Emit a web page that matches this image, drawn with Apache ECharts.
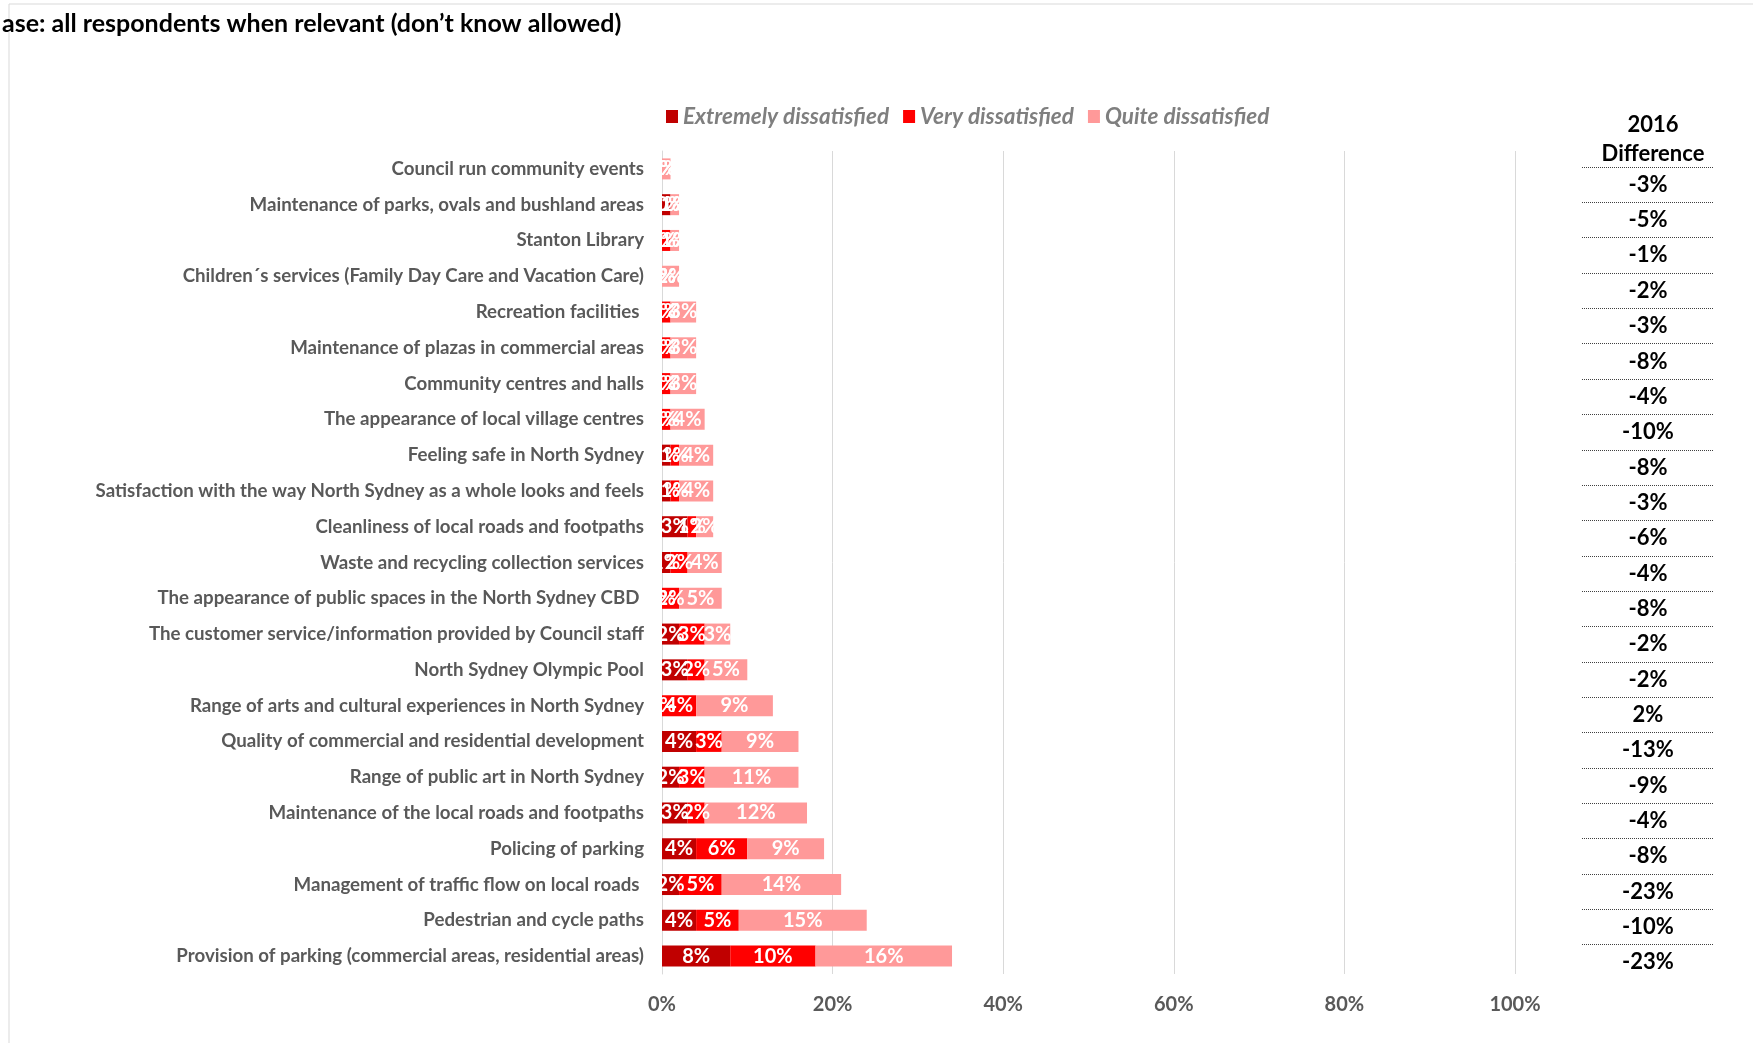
<!DOCTYPE html>
<html>
<head>
<meta charset="utf-8">
<script src="https://cdn.jsdelivr.net/npm/echarts@6/dist/echarts.min.js"></script>
<style>
  html, body { margin: 0; padding: 0; background: #fff; }
  #chart { width: 1760px; height: 1043px; }
</style>
</head>
<body>
<div id="chart"></div>
<script>
// rows listed top to bottom as in the picture
const categories = [
  "Council run community events",
  "Maintenance of parks, ovals and bushland areas",
  "Stanton Library",
  "Children´s services (Family Day Care and Vacation Care)",
  "Recreation facilities ",
  "Maintenance of plazas in commercial areas",
  "Community centres and halls",
  "The appearance of local village centres",
  "Feeling safe in North Sydney",
  "Satisfaction with the way North Sydney as a whole looks and feels",
  "Cleanliness of local roads and footpaths",
  "Waste and recycling collection services",
  "The appearance of public spaces in the North Sydney CBD ",
  "The customer service/information provided by Council staff",
  "North Sydney Olympic Pool",
  "Range of arts and cultural experiences in North Sydney",
  "Quality of commercial and residential development",
  "Range of public art in North Sydney",
  "Maintenance of the local roads and footpaths",
  "Policing of parking",
  "Management of traffic flow on local roads ",
  "Pedestrian and cycle paths",
  "Provision of parking (commercial areas, residential areas)"
];
const extremely = [0, 1, 0, 0, 0, 0, 0, 0, 1, 1, 3, 1, 0, 2, 3, 0, 4, 2, 3, 4, 2, 4, 8];
const very      = [0, 0, 1, 0, 1, 1, 1, 1, 1, 1, 1, 2, 2, 3, 2, 4, 3, 3, 2, 6, 5, 5, 10];
const quite     = [1, 1, 1, 2, 3, 3, 3, 4, 4, 4, 2, 4, 5, 3, 5, 9, 9, 11, 12, 9, 14, 15, 16];
const diff2016  = ["-3%", "-5%", "-1%", "-2%", "-3%", "-8%", "-4%", "-10%", "-8%", "-3%", "-6%", "-4%",
                   "-8%", "-2%", "-2%", "2%", "-13%", "-9%", "-4%", "-8%", "-23%", "-10%", "-23%"];
const xTicks = [0, 20, 40, 60, 80, 100];

const seriesNames = ["Extremely dissatisfied", "Very dissatisfied", "Quite dissatisfied"];
const colors = ["#C00000", "#FF0000", "#FF9999"];

// category axis starts at the bottom, so flip everything
const rev = (a) => a.slice().reverse();
const catsRev = rev(categories);
const diffRev = rev(diff2016);

const chart = echarts.init(document.getElementById("chart"));

const barSeries = [extremely, very, quite].map((vals, i) => ({
  name: seriesNames[i],
  type: "bar",
  stack: "total",
  barWidth: 21,
  itemStyle: { color: colors[i] },
  label: {
    show: true,
    position: "inside",
    color: "#fff",
    fontWeight: "bold",
    fontSize: 20,
    formatter: (p) => p.value + "%",
  },
  data: rev(vals),
}));

chart.setOption({
  animation: false,
  textStyle: { fontFamily: "Lato" },
  title: [
    {
      text: "ase: all respondents when relevant (don’t know allowed)",
      left: -3,
      top: 6,
      textStyle: { fontSize: 25, fontWeight: "bold", color: "#000" },
    },
    {
      text: "2016\nDifference",
      left: 1648,
      top: 105,
      textAlign: "center",
      textStyle: { fontSize: 22, fontWeight: "bold", color: "#000", lineHeight: 29 },
    },
  ],
  graphic: [
    { type: "line", z: -1, shape: { x1: 9, y1: 4, x2: 1753, y2: 4 }, style: { stroke: "#d9d9d9", lineWidth: 1 } },
    { type: "line", z: -1, shape: { x1: 9, y1: 4, x2: 9, y2: 1043 }, style: { stroke: "#d9d9d9", lineWidth: 1 } },
  ],
  legend: {
    data: seriesNames,
    left: 661,
    top: 100,
    icon: "rect",
    itemWidth: 12,
    itemHeight: 13,
    itemGap: 14,
    textStyle: { fontSize: 22.5, fontStyle: "italic", fontWeight: "bold", color: "#7f7f7f" },
  },
  grid: [
    { left: 662, width: 853, top: 151, height: 823 },
    { left: 1582, width: 132, top: 167, height: 813 },
  ],
  xAxis: [
    {
      type: "value",
      min: xTicks[0],
      max: xTicks[xTicks.length - 1],
      interval: 20,
      axisLine: { show: false },
      axisTick: { show: false },
      splitLine: { lineStyle: { color: "#d9d9d9", width: 1 } },
      axisLabel: { formatter: "{value}%", color: "#595959", fontWeight: "bold", fontSize: 20, margin: 21 },
    },
    { type: "value", gridIndex: 1, show: false },
  ],
  yAxis: [
    {
      type: "category",
      data: catsRev,
      axisLine: { show: true, lineStyle: { color: "#d9d9d9", width: 1 } },
      axisTick: { show: false },
      splitLine: { show: false },
      axisLabel: { color: "#595959", fontWeight: "bold", fontSize: 18.7, margin: 18 },
    },
    {
      type: "category",
      gridIndex: 1,
      data: catsRev,
      axisLine: { show: false },
      axisTick: { show: false },
      splitLine: {
        show: true,
        interval: (idx) => idx !== 0, // no line under the last row
        lineStyle: { type: "dotted", color: "#404040", width: 1 },
      },
      axisLabel: {
        align: "center",
        margin: -66,
        color: "#000",
        fontWeight: "bold",
        fontSize: 22,
        formatter: (v, idx) => diffRev[idx],
      },
    },
  ],
  series: barSeries,
});
</script>
</body>
</html>
